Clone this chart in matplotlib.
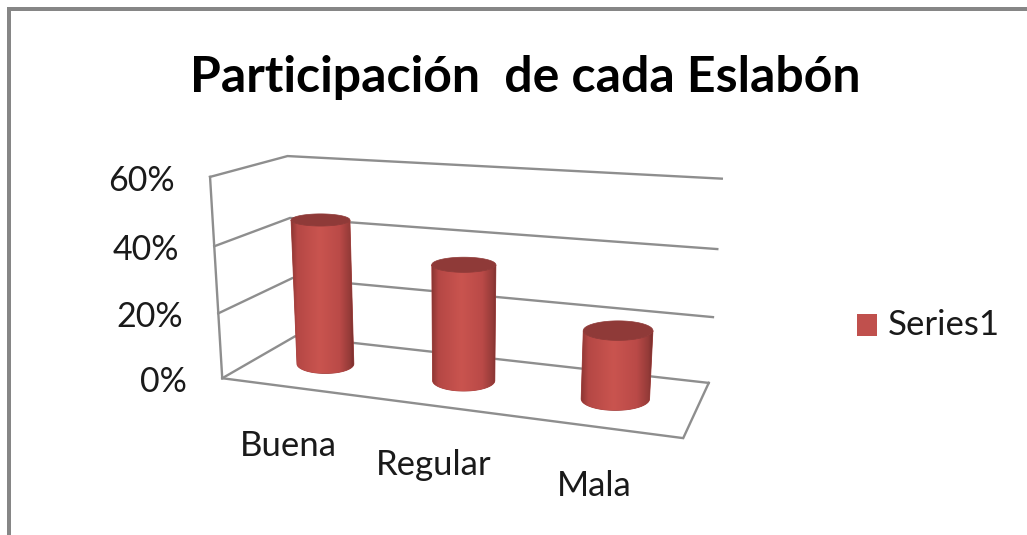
import numpy as np
import matplotlib
matplotlib.use('Agg')
import matplotlib.pyplot as plt
from matplotlib.patches import Polygon, Rectangle

# Data
categories = ['Buena', 'Regular', 'Mala']
values = [45, 35, 20]
ticks = [0, 20, 40, 60]
tick_labels = ['0%', '20%', '40%', '60%']
series_name = 'Series1'

plt.rcParams['font.family'] = ['Lato', 'DejaVu Sans']

# Camera: fit a projection from the wall corners seen in the picture
# (column, depth, value) -> pixel
anchors = [
    (0, 1, 0, 295, 337), (3, 1, 0, 709, 382), (0, 0, 0, 222, 378), (3, 0, 0, 683, 439),
    (0, 1, 20, 292, 278), (3, 1, 20, 713, 317), (0, 0, 20, 219, 313),
    (0, 1, 40, 290, 218), (3, 1, 40, 717, 249), (0, 0, 40, 215, 246),
    (0, 1, 60, 288, 156), (3, 1, 60, 722, 179), (0, 0, 60, 209, 177),
]
rows = []
for cx, cz, cv, px, py in anchors:
    w = [cx, cz, cv / 60, 1]
    rows.append(w + [0, 0, 0, 0] + [-px / 1000 * c for c in w])
    rows.append([0, 0, 0, 0] + w + [-py / 1000 * c for c in w])
cam = np.linalg.svd(np.array(rows, dtype=float))[2][-1].reshape(3, 4)


def project(col, depth, val):
    w = np.stack([np.asarray(col, float) * np.ones_like(np.asarray(val, float)),
                  np.asarray(depth, float) * np.ones_like(np.asarray(val, float)),
                  np.asarray(val, float) / 60,
                  np.ones_like(np.asarray(val, float))], axis=-1)
    p = w @ cam.T
    return p[..., 0] / p[..., 2] * 1000, p[..., 1] / p[..., 2] * 1000


def ring(col, val, theta):
    # The chart draws level ellipses, not skewed with the floor
    x, y = project(col, 0.5, val)
    a = abs(project(col + rx, 0.5, val)[0] - project(col - rx, 0.5, val)[0]) / 2
    b = abs(project(col, 0.5 - rz, val)[1] - project(col, 0.5 + rz, val)[1]) / 2
    return x + a * np.cos(theta), y + b * np.sin(theta)


fig = plt.figure(figsize=(10.27, 5.35), dpi=100)
ax = fig.add_axes([0, 0, 1, 1])
ax.axis('off')

# Picture frame (open on right and bottom)
ax.add_patch(Rectangle((7, 7), 1020, 3.5, color='#868686', lw=0))
ax.add_patch(Rectangle((7, 7), 3.5, 528, color='#868686', lw=0))

ax.text(525, 77, 'Participación  de cada Eslabón', fontsize=36, fontweight='bold',
        ha='center', va='center', color='black')

# Walls and gridlines
grid = '#8e8e8e'
lw = 1.7
for t in ticks:
    x0, y0 = project(0, 0, t)
    x1, y1 = project(0, 1, t)
    x2, y2 = project(3, 1, t)
    ax.plot([x0, x1, x2], [y0, y1, y2], color=grid, lw=lw, solid_joinstyle='miter')
x0, y0 = project(0, 0, ticks[0])
x1, y1 = project(0, 0, ticks[-1])
ax.plot([x0, x1], [y0, y1], color=grid, lw=lw)
xs, ys = project([0, 3, 3], [0, 0, 1], np.zeros(3))
ax.plot(xs, ys, color=grid, lw=lw, solid_joinstyle='miter')

# Cylinders: horizontal gradient clipped to the outline
front = np.linspace(0, np.pi, 91)
cap = np.linspace(0, 2 * np.pi, 181)
rx, rz = 0.215, 0.22
shade_pos = [-1, -0.8, -0.1, 0.55, 0.88, 1]
shade_rgb = np.array([[0.55, 0.21, 0.20], [0.71, 0.28, 0.27], [0.79, 0.33, 0.31],
                      [0.73, 0.29, 0.28], [0.58, 0.23, 0.22], [0.47, 0.18, 0.17]])
ramp = np.linspace(-1, 1, 256)
ramp_rgb = np.stack([np.interp(ramp, shade_pos, shade_rgb[:, k]) for k in range(3)], axis=-1)[np.newaxis]

for i, val in enumerate(values):
    bx, by = ring(i + 0.5, 0, front)
    tx, ty = ring(i + 0.5, val, front)
    outline = np.column_stack([np.r_[bx, tx[::-1]], np.r_[by, ty[::-1]]])
    # solid body underneath keeps the clipped edge smooth
    ax.add_patch(Polygon(outline, closed=True, color='#a8423f', lw=0.6, zorder=3))
    img = ax.imshow(ramp_rgb, aspect='auto', interpolation='bilinear', zorder=3.5,
                    extent=[outline[:, 0].min(), outline[:, 0].max(), outline[:, 1].max(), outline[:, 1].min()])
    img.set_clip_path(Polygon(outline, closed=True, transform=ax.transData))
    cx, cy = ring(i + 0.5, val, cap)
    ax.fill(cx, cy, color='#8f3a38', lw=0.5, zorder=4)

ax.set_xlim(0, 1027)
ax.set_ylim(535, 0)

# Value axis labels
for t, lab in zip(ticks, tick_labels):
    x, y = project(0, 0, t)
    ax.text(x - 35, y + 4, lab, fontsize=24.5, ha='right', va='center', color='#1a1a1a')

# Category labels
for i, cat in enumerate(categories):
    x, y = project(i + 0.5, 0, 0)
    ax.text(x - 2, y + 59, cat, fontsize=25, ha='center', va='center', color='#1a1a1a')

# Legend
ax.add_patch(Rectangle((857, 314), 20, 22, color='#c0504d', lw=0))
ax.text(888, 325, series_name, fontsize=25, ha='left', va='center', color='#1a1a1a')

fig.savefig('out.png', dpi=100)
